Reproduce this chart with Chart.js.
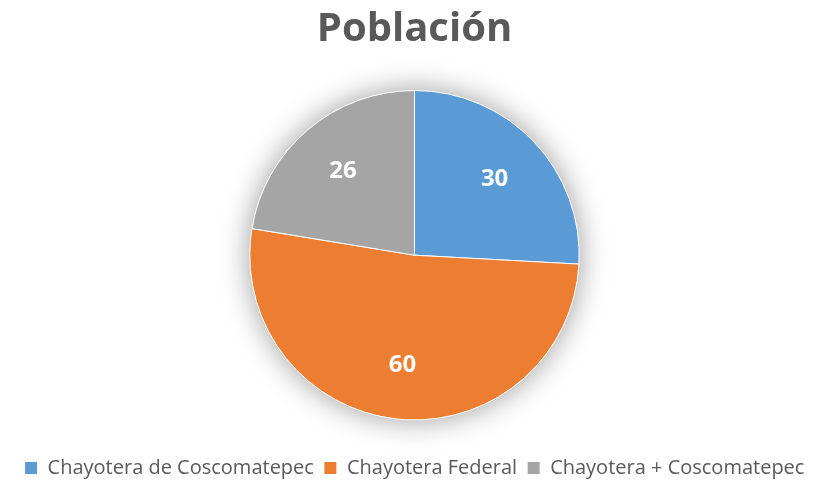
<!DOCTYPE html>
<html>
<head>
<meta charset="utf-8">
<script src="https://cdn.jsdelivr.net/npm/chart.js@4"></script>
<style>
  html, body { margin: 0; padding: 0; background: #fff; }
  #wrap { width: 829px; height: 480px; }
</style>
</head>
<body>
<div id="wrap"><canvas id="pie"></canvas></div>
<script>
const categories = ["Chayotera de Coscomatepec", "Chayotera Federal", "Chayotera + Coscomatepec"];
const poblacion = [30, 60, 26];
const colores = ["#5B9BD5", "#ED7D31", "#A5A5A5"];

const FONT = "'Open Sans', 'Noto Sans', sans-serif";

// sombra suave detras del pastel
const pieShadow = {
    id: "pieShadow",
    beforeDatasetsDraw(chart) {
        const arc = chart.getDatasetMeta(0).data[0];
        if (!arc) return;
        const ctx = chart.ctx;
        ctx.save();
        ctx.shadowColor = "rgba(0,0,0,0.4)";
        ctx.shadowBlur = 30;
        ctx.fillStyle = "#fff";
        ctx.beginPath();
        ctx.arc(arc.x, arc.y, arc.outerRadius, 0, Math.PI * 2);
        ctx.fill();
        ctx.restore();
    }
};

// etiquetas de valor dentro de cada rebanada
const sliceLabels = {
    id: "sliceLabels",
    afterDatasetsDraw(chart) {
        const ctx = chart.ctx;
        const ds = chart.data.datasets[0];
        ctx.save();
        ctx.font = "bold 24px " + FONT;
        ctx.fillStyle = "#fff";
        ctx.textAlign = "center";
        ctx.textBaseline = "middle";
        chart.getDatasetMeta(0).data.forEach((arc, i) => {
            const mid = (arc.startAngle + arc.endAngle) / 2;
            const r = arc.outerRadius * 0.67;
            ctx.fillText(ds.data[i], arc.x + Math.cos(mid) * r, arc.y + Math.sin(mid) * r);
        });
        ctx.restore();
    }
};

new Chart(document.getElementById("pie"), {
    type: "pie",
    data: {
        labels: categories,
        datasets: [{
            data: poblacion,
            backgroundColor: colores,
            borderColor: "#fff",
            borderWidth: 1
        }]
    },
    options: {
        responsive: true,
        maintainAspectRatio: false,
        animation: false,
        layout: { padding: { top: 0, bottom: -8 } },
        plugins: {
            title: {
                display: true,
                text: "Población",
                color: "#595959",
                font: { family: FONT, size: 40, weight: "bold" },
                padding: { top: 6, bottom: 36 }
            },
            legend: {
                position: "bottom",
                // titulo vacio solo para separar la leyenda del pastel
                title: {
                    display: true,
                    text: " ",
                    font: { size: 8 },
                    padding: { top: 0, bottom: 18 }
                },
                labels: {
                    color: "#595959",
                    font: { family: FONT, size: 20 },
                    boxWidth: 13,
                    boxHeight: 13,
                    padding: 10
                }
            },
            tooltip: { enabled: false }
        }
    },
    plugins: [pieShadow, sliceLabels]
});
</script>
</body>
</html>
